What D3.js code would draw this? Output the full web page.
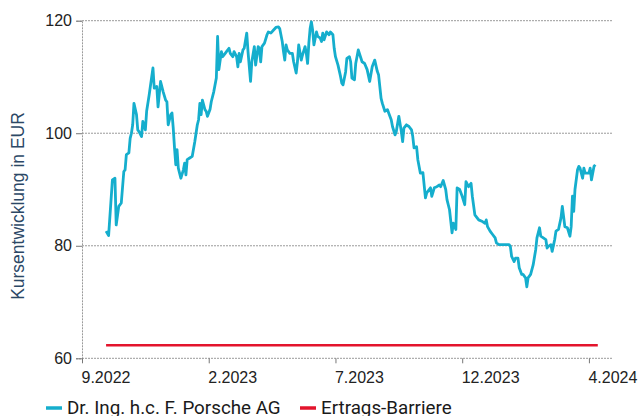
<!DOCTYPE html>
<html>
<head>
<meta charset="utf-8">
<script src="https://cdn.jsdelivr.net/npm/d3@7"></script>
<style>
  html, body { margin: 0; padding: 0; background: #fff; }
  svg { display: block; font-family: 'Liberation Sans', Arial, sans-serif; }
</style>
</head>
<body>
<div id="chart"></div>
<script>
// trading days since the start of the axis (9.2022)
const days = [
  19, 21, 24, 26, 27, 29, 31, 33, 34, 35, 37, 38, 39, 40, 41, 43, 44, 45, 47, 48,
  50, 51, 53, 56, 57, 59, 60, 62, 64, 66, 67, 68, 70, 71, 72, 73, 74, 75, 76, 78,
  80, 81, 82, 83, 85, 87, 89, 91, 92, 93, 94, 95, 97, 98, 99, 101, 102, 104, 106, 107,
  108, 110, 111, 113, 114, 116, 117, 119, 120, 122, 123, 124, 125, 127, 128, 130, 131, 133, 134, 136,
  137, 139, 140, 141, 142, 144, 146, 147, 149, 151, 153, 155, 156, 158, 159, 160, 161, 162, 164, 166,
  167, 169, 170, 171, 173, 174, 176, 177, 178, 179, 180, 181, 182, 183, 185, 186, 188, 189, 190, 191,
  193, 195, 196, 198, 199, 200, 202, 204, 205, 206, 208, 209, 211, 212, 213, 215, 216, 218, 221, 223,
  225, 227, 229, 231, 233, 234, 236, 237, 239, 241, 242, 244, 245, 247, 248, 250, 252, 253, 254, 256,
  258, 260, 261, 262, 264, 265, 266, 267, 269, 271, 272, 275, 276, 278, 280, 282, 283, 285, 287, 288,
  290, 292, 293, 295, 296, 298, 300, 302, 303, 305, 307, 308, 310, 313, 316, 318, 319, 320, 322, 324,
  326, 327, 329, 334, 337, 338, 339, 341, 342, 344, 345, 347, 348, 350, 351, 352, 354, 356, 358, 359,
  361, 362, 364, 366, 367, 368, 370, 371, 373, 374, 376, 378, 379, 380, 381, 383, 385, 386, 387, 388,
  389, 391, 392, 393, 395, 396, 397, 398, 400, 401, 402, 404, 405
];
const prices = [
  82.6, 81.8, 91.7, 92.0, 83.7, 87.0, 87.6, 93.2, 93.5, 96.2, 96.5, 99.1, 100, 101.5, 105.3, 103.3, 100.6, 100.3, 99.4, 102.1,
  100.6, 103.9, 106.8, 111.6, 108, 108.3, 104.7, 109.2, 107.4, 105.9, 105.6, 101.5, 103.3, 103.6, 100.9, 97.4, 94.4, 97.1, 93.8, 92.0,
  93.5, 94.7, 92.6, 95.3, 95.6, 95.9, 98.5, 101.5, 102.4, 105.3, 103.3, 105.9, 104.2, 103.9, 103, 104.2, 105.6, 107.4, 109.8, 117.2,
  111.3, 114.5, 113.6, 114.2, 114.5, 115.1, 114.2, 113.6, 114.5, 113.6, 111.8, 114.2, 112.7, 114.8, 115.1, 117.8, 114.5, 109.2, 112.7, 115.4,
  112.1, 115.4, 115.1, 112.7, 115.4, 116, 117.5, 118.0, 117.8, 118.3, 118.8, 118.9, 118.6, 116.3, 114.5, 113, 115.7, 114.8, 114.2, 114.2,
  112.7, 110.7, 112.7, 115.7, 113, 113.9, 115.4, 114.2, 112.4, 116, 118.6, 119.8, 118.3, 115.7, 118, 117.2, 116.9, 116.3, 117.8, 116.6,
  118, 117.5, 118, 117.5, 115.1, 113.6, 112.1, 110.1, 108.9, 108.6, 110.9, 113.3, 113.6, 112.7, 109.8, 109.5, 112.4, 114.8, 112.7, 112.4,
  111.3, 109.2, 111.8, 113, 111, 110.4, 106.2, 105.3, 103.9, 104.2, 103.6, 102.4, 101.2, 99.7, 100.3, 103, 100.3, 98.5, 100.9, 101.5,
  101.2, 100.6, 99.4, 97.4, 97.6, 95.3, 94.1, 92.9, 93.0, 88.5, 89.4, 90.3, 88.8, 90.3, 90.5, 90.8, 90.5, 91.6, 90, 88.2,
  86.4, 82.3, 84.0, 82.9, 90.3, 90.0, 88.8, 87.3, 91.4, 90.5, 91.1, 88.8, 85.5, 84.6, 84.3, 84.0, 84.6, 83.4, 82.6, 82.0,
  81.4, 80.5, 80.2, 80.2, 80.2, 79.9, 78.1, 77.2, 77.8, 77.8, 76.1, 74.9, 74.9, 74.3, 72.7, 74.3, 74.9, 76.6, 79.3, 81.4,
  83.2, 81.7, 81.4, 81.1, 79.6, 79.9, 80.2, 79.0, 81.1, 82.6, 82.9, 85, 87, 85.2, 83.4, 83.2, 81.7, 83.4, 88.8, 86.1,
  90, 93.5, 94.1, 93.8, 92.0, 93.8, 92.9, 92.9, 92.9, 93.8, 91.7, 94.1, 94.4
];
const barrierDays = [19, 407];
const barrierLevel = 62.3;

const xTickDays = [0, 100, 200, 300, 400];
const xTickLabels = ['9.2022', '2.2023', '7.2023', '12.2023', '4.2024'];
const yTicks = [60, 80, 100, 120];
const seriesNames = ['Dr. Ing. h.c. F. Porsche AG', 'Ertrags-Barriere'];
const seriesColors = ['#15aecd', '#e3142c'];

const width = 639, height = 416;
const margin = { top: 20.7, right: 26, bottom: 57.7, left: 82 };
const innerW = width - margin.left - margin.right,
    innerH = height - margin.top - margin.bottom;

const svg = d3.select('#chart')
    .append('svg')
    .attr('width', width)
    .attr('height', height);

const g = svg.append('g')
    .attr('transform', `translate(${margin.left},${margin.top})`);

const x = d3.scaleLinear().domain([0, 419]).range([0, innerW]);
const y = d3.scaleLinear().domain([60, 120]).range([innerH, 0]);

// gridlines
g.append('g')
    .selectAll('line')
    .data(yTicks)
    .join('line')
    .attr('x1', 0)
    .attr('x2', innerW)
    .attr('y1', (d) => y(d))
    .attr('y2', (d) => y(d))
    .attr('stroke', '#9a9a9a')
    .attr('stroke-width', 1)
    .attr('stroke-dasharray', '2,1');

// y axis
const yAxis = g.append('g')
    .call(d3.axisLeft(y).tickValues(yTicks).tickSize(6).tickPadding(4));
yAxis.select('.domain')
    .attr('stroke', '#9a9a9a')
    .attr('stroke-dasharray', '2,1');
yAxis.selectAll('.tick line').attr('stroke', '#777');
yAxis.selectAll('.tick text')
    .attr('fill', '#222')
    .style('font-size', '16px');

// x axis
const xAxis = g.append('g')
    .attr('transform', `translate(0,${innerH})`)
    .call(d3.axisBottom(x)
        .tickValues(xTickDays)
        .tickFormat((d, i) => xTickLabels[i])
        .tickSize(5)
        .tickSizeOuter(0)
        .tickPadding(8));
xAxis.select('.domain').remove();
xAxis.selectAll('.tick line').attr('stroke', '#777');
xAxis.selectAll('.tick text')
    .attr('fill', '#222')
    .attr('text-anchor', 'start')
    .attr('dx', -1)
    .style('font-size', '16px');

// y axis title
svg.append('text')
    .attr('transform', `translate(24,${206}) rotate(-90)`)
    .attr('text-anchor', 'middle')
    .attr('fill', '#2c4866')
    .style('font-size', '17.5px')
    .text('Kursentwicklung in EUR');

// barrier
g.append('path')
    .datum(barrierDays.map((d) => [d, barrierLevel]))
    .attr('fill', 'none')
    .attr('stroke', seriesColors[1])
    .attr('stroke-width', 2.5)
    .attr('d', d3.line().x((d) => x(d[0])).y((d) => y(d[1])));

// price line
const line = d3.line()
    .x((d, i) => x(days[i]))
    .y((d) => y(d));
g.append('path')
    .datum(prices)
    .attr('fill', 'none')
    .attr('stroke', seriesColors[0])
    .attr('stroke-width', 2.8)
    .attr('stroke-linejoin', 'round')
    .attr('d', line);

// legend
const legendX = [46, 300];
const legend = svg.append('g').attr('transform', 'translate(0,408)');
const items = legend.selectAll('g')
    .data(seriesNames)
    .join('g')
    .attr('transform', (d, i) => `translate(${legendX[i]},0)`);
items.append('line')
    .attr('x1', 0)
    .attr('x2', 16)
    .attr('stroke', (d, i) => seriesColors[i])
    .attr('stroke-width', 3.5);
items.append('text')
    .attr('x', 21)
    .attr('y', 6.3)
    .attr('fill', '#1a1a1a')
    .style('font-family', 'Roboto, sans-serif')
    .style('font-size', '18.8px')
    .text((d) => d);
</script>
</body>
</html>
